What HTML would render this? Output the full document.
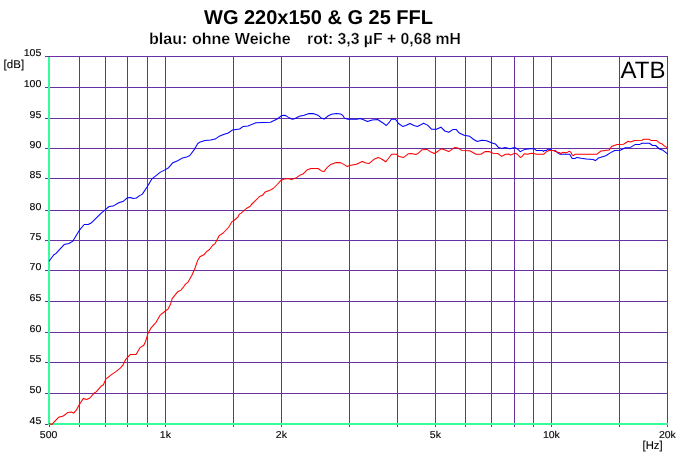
<!DOCTYPE html>
<html lang="de">
<head>
<meta charset="utf-8">
<title>WG 220x150 &amp; G 25 FFL</title>
<style>
html,body{margin:0;padding:0;background:#fff;}
body{width:686px;height:467px;overflow:hidden;position:relative;font-family:"Liberation Sans",sans-serif;color:#000;}
svg{position:absolute;left:0;top:0;display:block;will-change:transform;}
svg text{font-family:"Liberation Sans",sans-serif;fill:#000;text-rendering:geometricPrecision;}
.t1{font-size:20px;font-weight:bold;}
.t2{font-size:16px;font-weight:bold;stroke:#fff;stroke-width:0.22px;paint-order:fill stroke;}
.ax{font-size:10px;stroke:#000;stroke-width:0.13px;}
.un{font-size:12px;stroke:#000;stroke-width:0.1px;}
.atb{font-size:23px;}
</style>
</head>
<body>
<svg width="686" height="467" viewBox="0 0 686 467">
<rect x="0" y="0" width="686" height="467" fill="#ffffff"/>
<g fill="#6830a0" shape-rendering="crispEdges">
<rect x="45" y="56" width="623" height="1"/>
<rect x="45" y="87" width="623" height="1"/>
<rect x="45" y="118" width="623" height="1"/>
<rect x="45" y="148" width="623" height="1"/>
<rect x="45" y="178" width="623" height="1"/>
<rect x="45" y="210" width="623" height="1"/>
<rect x="45" y="240" width="623" height="1"/>
<rect x="45" y="270" width="623" height="1"/>
<rect x="45" y="301" width="623" height="1"/>
<rect x="45" y="332" width="623" height="1"/>
<rect x="45" y="362" width="623" height="1"/>
<rect x="45" y="393" width="623" height="1"/>
<rect x="45" y="424" width="623" height="1"/>
<rect x="49" y="56" width="1" height="371"/>
<rect x="79" y="56" width="1" height="371"/>
<rect x="105" y="56" width="1" height="371"/>
<rect x="127" y="56" width="1" height="371"/>
<rect x="147" y="56" width="1" height="371"/>
<rect x="165" y="56" width="1" height="371"/>
<rect x="233" y="56" width="1" height="371"/>
<rect x="281" y="56" width="1" height="371"/>
<rect x="349" y="56" width="1" height="371"/>
<rect x="397" y="56" width="1" height="371"/>
<rect x="435" y="56" width="1" height="371"/>
<rect x="465" y="56" width="1" height="371"/>
<rect x="491" y="56" width="1" height="371"/>
<rect x="514" y="56" width="1" height="371"/>
<rect x="533" y="56" width="1" height="371"/>
<rect x="551" y="56" width="1" height="371"/>
<rect x="619" y="56" width="1" height="371"/>
<rect x="667" y="56" width="1" height="371"/>
</g>
<g fill="#36fd9b" shape-rendering="crispEdges">
<rect x="48" y="57" width="2" height="368"/>
<rect x="48" y="423" width="620" height="2"/>
</g>
<g fill="#6830a0" shape-rendering="crispEdges">
<rect x="45" y="424" width="3" height="1"/>
</g>
<polyline fill="none" stroke="#0000ff" stroke-width="1.05" stroke-linejoin="round" stroke-linecap="round" points="49.3,261.0 53.6,255.0 56.1,253.4 64.1,244.6 68.9,243.5 72.9,241.1 76.1,235.8 79.7,229.8 84.2,224.5 88.2,224.4 91.1,223.1 101.0,213.3 105.4,209.6 109.1,206.5 113.1,206.1 118.7,202.8 123.5,201.2 127.5,197.7 130.7,197.4 133.1,198.4 136.4,198.0 139.6,195.6 142.4,194.1 147.2,186.8 152.0,178.8 160.1,172.4 165.4,169.6 168.6,167.7 172.9,162.7 177.7,160.7 182.6,157.9 186.6,157.1 189.8,155.5 194.6,149.1 197.8,143.5 200.2,141.9 205.0,140.4 210.7,139.9 215.2,139.1 218.7,136.6 223.5,134.6 228.3,133.0 232.3,130.1 239.6,129.0 243.2,126.4 248.0,126.0 256.1,122.7 270.5,122.3 277.7,118.7 281.8,115.5 285.0,115.2 288.2,117.1 292.2,119.2 294.6,118.7 299.4,116.3 304.2,115.2 309.1,113.6 313.1,113.6 317.9,115.2 321.1,117.9 324.3,119.0 327.5,116.3 331.5,114.2 336.4,113.4 340.4,113.9 342.6,115.2 344.6,118.3 348.0,119.2 356.9,119.2 360.1,118.4 364.1,120.0 367.6,121.6 372.1,120.0 377.7,119.5 382.6,122.7 386.3,125.5 389.0,122.7 391.4,119.2 395.4,119.2 398.6,123.5 402.6,126.4 405.8,125.5 409.9,123.5 413.9,125.5 417.4,126.4 420.3,125.1 423.5,123.2 427.5,125.1 431.5,129.2 436.4,129.2 440.9,127.2 444.8,131.0 448.8,132.3 452.8,129.6 456.1,129.4 459.3,133.1 464.1,135.2 469.7,136.3 473.7,139.5 477.3,141.5 481.8,140.3 486.6,140.7 491.4,142.7 495.4,143.9 498.6,147.6 501.8,148.4 505.0,147.6 509.9,148.8 514.7,147.6 517.1,148.7 520.3,151.6 524.3,149.6 529.9,148.7 533.9,148.8 535.0,149.3 536.2,150.5 542.6,150.5 543.5,151.4 544.3,150.5 546.7,150.5 547.5,149.3 549.9,149.3 551.5,150.3 554.8,150.5 555.7,150.8 558.3,153.4 560.1,154.3 569.7,154.3 571.2,156.9 572.3,158.5 575.0,158.5 576.9,157.4 581.0,158.2 586.6,159.0 593.0,159.5 595.4,160.6 598.6,157.9 605.8,155.8 610.7,152.6 614.7,150.5 620.3,150.2 625.3,147.7 630.5,147.4 635.4,144.4 639.8,144.4 642.0,143.3 649.4,143.3 652.5,145.5 655.6,145.5 659.5,149.0 663.1,150.3 667.5,153.8"/>
<polyline fill="none" stroke="#ff0000" stroke-width="1.05" stroke-linejoin="round" stroke-linecap="round" points="49.3,423.7 52.0,424.4 54.5,421.6 58.5,417.3 63.3,416.0 67.3,412.8 71.3,412.0 73.7,413.1 76.1,410.4 79.7,404.0 83.4,398.4 86.6,399.5 89.8,398.0 94.6,392.7 96.2,391.9 101.0,386.3 103.4,384.7 105.8,379.1 111.5,374.6 115.5,371.9 120.3,368.2 122.7,365.4 125.8,359.3 130.4,354.4 136.1,354.4 140.1,347.6 143.8,345.2 145.7,341.2 148.1,333.2 151.3,327.6 156.1,322.3 160.1,315.2 165.4,311.0 168.2,308.8 170.6,303.9 172.2,298.7 177.8,291.7 181.0,290.1 184.2,286.0 185.4,284.1 187.8,282.4 191.9,275.2 195.1,268.0 197.5,260.8 199.9,256.8 203.9,254.8 206.3,251.9 209.5,249.5 212.7,245.2 215.1,243.6 217.6,238.8 219.2,235.6 223.2,233.0 228.8,227.0 232.1,221.6 234.0,220.5 238.0,216.9 239.4,214.1 241.2,213.1 244.9,209.9 246.3,208.5 250.3,206.3 251.4,204.5 255.2,200.8 259.5,196.5 262.5,195.3 265.1,192.1 269.2,190.6 273.2,188.5 277.2,184.5 281.2,180.2 284.4,178.9 288.4,178.6 291.6,179.4 295.7,178.1 300.5,174.9 302.9,174.1 306.9,170.1 310.9,168.5 318.1,168.5 321.4,170.9 324.2,171.4 327.0,167.7 330.6,164.6 336.2,162.6 340.3,162.6 344.3,164.6 347.2,166.6 349.9,165.4 356.3,164.2 362.3,161.4 366.0,163.0 369.2,163.4 374.0,159.3 378.3,157.4 382.0,159.3 385.7,161.8 388.4,158.5 391.6,154.2 396.5,154.2 398.9,156.6 403.7,157.4 408.5,153.7 411.7,153.4 415.7,154.5 418.1,153.4 422.2,149.7 427.0,149.4 431.0,152.1 434.4,153.5 438.0,151.2 441.2,148.8 445.0,150.0 448.8,151.6 454.5,147.6 457.7,147.9 461.7,150.4 469.7,150.8 476.1,154.3 481.0,154.3 485.0,151.6 489.0,151.6 493.0,153.2 497.8,153.5 501.8,156.4 505.0,154.5 508.3,154.0 510.7,155.1 514.7,153.2 517.1,154.0 520.3,157.5 522.2,156.4 524.3,153.7 527.5,154.3 531.5,153.2 534.7,153.7 536.4,154.3 543.7,154.3 545.8,152.0 547.5,151.4 549.0,150.5 553.7,150.5 554.8,151.4 556.3,151.5 557.4,152.4 559.5,152.5 561.0,153.6 562.4,152.5 564.7,152.4 565.4,153.1 566.5,152.4 567.7,152.2 568.8,151.4 570.0,151.5 571.2,152.8 572.3,155.3 573.5,155.5 575.0,154.3 576.1,154.2 597.0,154.2 601.0,151.0 609.1,150.1 611.5,146.6 617.1,144.6 623.5,144.3 628.3,141.3 630.5,142.0 634.5,140.4 642.0,140.3 643.7,139.3 649.0,139.3 650.8,140.4 656.5,140.4 659.1,142.7 661.7,143.7 664.8,146.4 667.5,147.7"/>
<text class="t1" transform="translate(204,24.2) scale(1.0,1.0)">WG 220x150 &amp; G 25 FFL</text>
<text class="t2" transform="translate(149,43.8) scale(1.005,1.0)">blau: ohne Weiche</text>
<text class="t2" transform="translate(307,43.8) scale(0.984,1.0)">rot: 3,3 µF + 0,68 mH</text>
<text class="un" transform="translate(3.6,67.7) scale(0.96,0.94)">[dB]</text>
<text class="un" transform="translate(642.5,449) scale(0.94,0.94)">[Hz]</text>
<text class="atb" transform="translate(620.6,78.3) scale(1.045,1.03)">ATB</text>
<text class="ax" transform="translate(41.4,56) scale(1.06,1.0)" text-anchor="end">105</text>
<text class="ax" transform="translate(41.4,87) scale(1.06,1.0)" text-anchor="end">100</text>
<text class="ax" transform="translate(41.4,118) scale(1.06,1.0)" text-anchor="end">95</text>
<text class="ax" transform="translate(41.4,148) scale(1.06,1.0)" text-anchor="end">90</text>
<text class="ax" transform="translate(41.4,178) scale(1.06,1.0)" text-anchor="end">85</text>
<text class="ax" transform="translate(41.4,210) scale(1.06,1.0)" text-anchor="end">80</text>
<text class="ax" transform="translate(41.4,240) scale(1.06,1.0)" text-anchor="end">75</text>
<text class="ax" transform="translate(41.4,270) scale(1.06,1.0)" text-anchor="end">70</text>
<text class="ax" transform="translate(41.4,301) scale(1.06,1.0)" text-anchor="end">65</text>
<text class="ax" transform="translate(41.4,332) scale(1.06,1.0)" text-anchor="end">60</text>
<text class="ax" transform="translate(41.4,362) scale(1.06,1.0)" text-anchor="end">55</text>
<text class="ax" transform="translate(41.4,393) scale(1.06,1.0)" text-anchor="end">50</text>
<text class="ax" transform="translate(41.4,424) scale(1.06,1.0)" text-anchor="end">45</text>
<text class="ax" transform="translate(48.6,437.9) scale(1.05,1.0)" text-anchor="middle">500</text>
<text class="ax" transform="translate(165.4,437.9) scale(1.05,1.0)" text-anchor="middle">1k</text>
<text class="ax" transform="translate(281.4,437.9) scale(1.05,1.0)" text-anchor="middle">2k</text>
<text class="ax" transform="translate(435.4,437.9) scale(1.05,1.0)" text-anchor="middle">5k</text>
<text class="ax" transform="translate(551.4,437.9) scale(1.05,1.0)" text-anchor="middle">10k</text>
<text class="ax" transform="translate(667.4,437.9) scale(1.05,1.0)" text-anchor="middle">20k</text>
</svg>
</body>
</html>
